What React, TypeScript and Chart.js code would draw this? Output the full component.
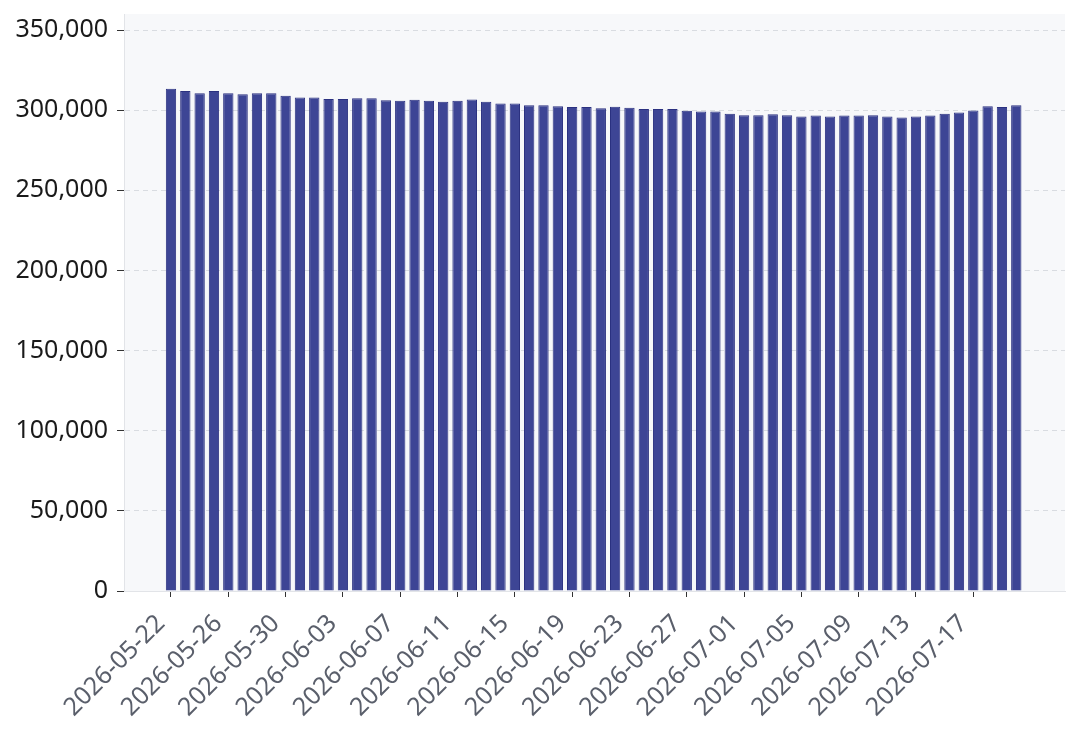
import React, { useEffect, useRef } from "react";
import { Chart, registerables } from "chart.js";

Chart.register(...registerables);

const dates = [
  "2026-05-22", "2026-05-23", "2026-05-24", "2026-05-25", "2026-05-26", "2026-05-27", "2026-05-28", "2026-05-29", "2026-05-30", "2026-05-31",
  "2026-06-01", "2026-06-02", "2026-06-03", "2026-06-04", "2026-06-05", "2026-06-06", "2026-06-07", "2026-06-08", "2026-06-09", "2026-06-10",
  "2026-06-11", "2026-06-12", "2026-06-13", "2026-06-14", "2026-06-15", "2026-06-16", "2026-06-17", "2026-06-18", "2026-06-19", "2026-06-20",
  "2026-06-21", "2026-06-22", "2026-06-23", "2026-06-24", "2026-06-25", "2026-06-26", "2026-06-27", "2026-06-28", "2026-06-29", "2026-06-30",
  "2026-07-01", "2026-07-02", "2026-07-03", "2026-07-04", "2026-07-05", "2026-07-06", "2026-07-07", "2026-07-08", "2026-07-09", "2026-07-10",
  "2026-07-11", "2026-07-12", "2026-07-13", "2026-07-14", "2026-07-15", "2026-07-16", "2026-07-17", "2026-07-18", "2026-07-19", "2026-07-20",
];

const values = [
  313300, 311900, 310600, 311900, 310600, 310000, 310600, 310600, 309000, 307900,
  307900, 306900, 306900, 307500, 307500, 306200, 305800, 306500, 305800, 305200,
  305800, 306700, 305200, 304200, 304200, 303100, 303100, 302500, 301900, 301900,
  301200, 302100, 301500, 300800, 300800, 300800, 299600, 299200, 299200, 297700,
  296900, 296900, 297500, 296900, 296000, 296700, 296000, 296700, 296700, 296900,
  296000, 295400, 296000, 296700, 297700, 298500, 299800, 302500, 301900, 303100,
];

const tickLabels = [
  "2026-05-22", "2026-05-26", "2026-05-30", "2026-06-03", "2026-06-07",
  "2026-06-11", "2026-06-15", "2026-06-19", "2026-06-23", "2026-06-27",
  "2026-07-01", "2026-07-05", "2026-07-09", "2026-07-13", "2026-07-17",
];

const yTicks = [0, 50000, 100000, 150000, 200000, 250000, 300000, 350000];

const FONT = "'Noto Sans', 'Open Sans', sans-serif";

export default function App() {
  const ref = useRef<HTMLCanvasElement>(null);

  useEffect(() => {
    document.body.style.margin = "0";
    const plotBg = {
      id: "plotBg",
      beforeDraw(chart: any) {
        const { ctx, chartArea: a } = chart;
        ctx.save();
        ctx.fillStyle = "#f7f8fa";
        ctx.fillRect(a.left, a.top, a.right - a.left, a.bottom - a.top);
        ctx.restore();
      },
    };

    const chart = new Chart(ref.current as HTMLCanvasElement, {
      type: "bar",
      data: {
        datasets: [
          {
            data: values.map((v, i) => ({ x: i, y: v })),
            backgroundColor: "#3d4595",
            borderColor: "#2b3180",
            borderWidth: 1,
            barPercentage: 0.9,
            categoryPercentage: 0.8,
          },
        ],
      },
      options: {
        animation: false,
        responsive: false,
        maintainAspectRatio: false,
        layout: { padding: { top: 14, right: 15, left: 0, bottom: 0 } },
        plugins: { legend: { display: false }, tooltip: { enabled: false } },
        scales: {
          x: {
            type: "linear",
            min: -3.28,
            max: 62.4,
            offset: false,
            grid: { display: true, drawOnChartArea: false, drawTicks: true, tickColor: "#333333", tickLength: 6, offset: false },
            border: { display: true, color: "#e2e4e8", width: 1 },
            afterBuildTicks: (s: any) => {
              s.ticks = tickLabels.map((l) => ({ value: dates.indexOf(l) }));
            },
            afterFit: (s: any) => {
              s.height = 144;
              s.paddingLeft = 0;
              s.paddingRight = 0;
            },
            ticks: {
              autoSkip: false,
              maxRotation: 45,
              minRotation: 45,
              padding: 12,
              labelOffset: -10,
              color: "#5a5f6b",
              font: { family: FONT, size: 25 },
              callback: (v: any) => dates[Math.round(Number(v))] ?? "",
            },
          },
          y: {
            type: "linear",
            min: 0,
            max: 360000,
            grid: { color: "#d9dce1", lineWidth: 1, tickColor: "#333333", tickLength: 7 },
            border: { display: true, color: "#e2e4e8", width: 1, dash: [5, 4] },
            afterBuildTicks: (s: any) => {
              s.ticks = yTicks.map((v) => ({ value: v }));
            },
            afterFit: (s: any) => {
              s.width = 124;
              s.paddingTop = 0;
              s.paddingBottom = 0;
            },
            ticks: {
              padding: 9,
              color: "#1a1a1a",
              font: { family: FONT, size: 25 },
              callback: (v: any) => Number(v).toLocaleString("en-US"),
            },
          },
        },
      },
      plugins: [plotBg],
    });

    return () => chart.destroy();
  }, []);

  return (
    <div style={{ width: 1080, height: 735 }}>
      <canvas ref={ref} width={1080} height={735} style={{ display: "block", width: 1080, height: 735 }} />
    </div>
  );
}
